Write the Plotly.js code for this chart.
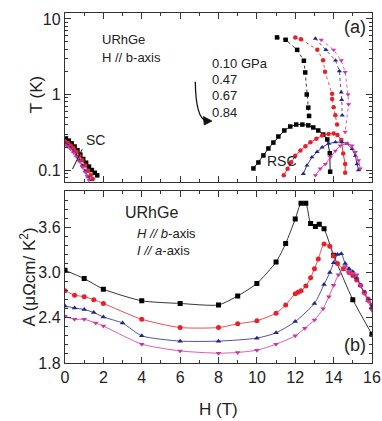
<!DOCTYPE html>
<html><head><meta charset="utf-8">
<script src="https://cdn.plot.ly/plotly-3.0.1.min.js"></script>
<style>html,body{margin:0;padding:0;background:#fff;}#chart{width:382px;height:421px;}</style>
</head><body><div id="chart"></div>
<script>
// ---------- series labels / styles ----------
const pressureLabels = ['0.10 GPa', '0.47', '0.67', '0.84'];
const seriesColors = ['#000000', '#e8202a', '#23238c', '#d0359f'];
const seriesSymbols = ['square', 'circle', 'triangle-up', 'triangle-down'];

// ---------- panel (a): T(H) phase diagram ----------
// superconducting (SC) lines near H = 0
const scH_010 = [0.05, 0.2, 0.35, 0.5, 0.65, 0.8, 0.95, 1.1, 1.25, 1.4, 1.55, 1.68];
const scT_010 = [0.262, 0.245, 0.225, 0.205, 0.183, 0.16, 0.14, 0.125, 0.111, 0.1, 0.092, 0.085];
const scH_047 = [0, 0.15, 0.3, 0.45, 0.6, 0.75, 0.9, 1.05, 1.2, 1.35, 1.45];
const scT_047 = [0.24, 0.228, 0.212, 0.195, 0.175, 0.155, 0.135, 0.115, 0.098, 0.085, 0.076];
const scH_067 = [0, 0.15, 0.3, 0.45, 0.6, 0.75, 0.9, 1.05, 1.2, 1.3];
const scT_067 = [0.225, 0.21, 0.195, 0.175, 0.155, 0.135, 0.115, 0.097, 0.082, 0.074];
const scH_084 = [0, 0.15, 0.3, 0.45, 0.6, 0.75, 0.9, 1.05, 1.15, 1.25];
const scT_084 = [0.215, 0.205, 0.19, 0.17, 0.15, 0.13, 0.11, 0.094, 0.083, 0.074];

// upper (dotted) transition lines
const upH_010 = [11.05, 11.5, 12.1, 12.45, 12.52, 12.6, 12.68, 12.72];
const upT_010 = [5.7, 5.3, 3.9, 2.8, 1.96, 1.0, 0.67, 0.52];
const upH_047 = [12.0, 12.3, 13.15, 13.45, 13.55, 13.92, 13.92, 14.0, 14.09, 14.18];
const upT_047 = [5.7, 5.4, 3.9, 2.85, 2.0, 1.02, 0.87, 0.68, 0.53, 0.40];
const upH_067 = [13.05, 13.6, 14.1, 14.3, 14.4, 14.42, 14.45];
const upT_067 = [5.5, 3.9, 2.82, 2.04, 1.07, 0.85, 0.53];
const upH_084 = [13.35, 14.0, 14.4, 14.6, 14.75, 14.78, 14.6];
const upT_084 = [5.3, 3.9, 2.82, 1.98, 1.0, 0.74, 0.32];

// re-entrant superconductivity (RSC) domes
const rsH_010 = [9.82, 10.08, 10.34, 10.6, 10.86, 11.12, 11.43, 11.74, 12.05, 12.37, 12.68, 12.94, 13.2, 13.46, 13.67, 13.8, 13.82];
const rsT_010 = [0.105, 0.126, 0.156, 0.193, 0.231, 0.278, 0.334, 0.377, 0.40, 0.40, 0.39, 0.366, 0.334, 0.295, 0.254, 0.167, 0.095];
const rsH_047 = [11.4, 11.6, 11.78, 12.0, 12.27, 12.53, 12.79, 13.1, 13.4, 13.74, 14.0, 14.2, 14.4, 14.5, 14.6, 14.6];
const rsT_047 = [0.085, 0.104, 0.127, 0.155, 0.181, 0.207, 0.233, 0.259, 0.287, 0.301, 0.305, 0.29, 0.25, 0.165, 0.12, 0.092];
const rsH_067 = [12.42, 12.61, 12.87, 13.14, 13.4, 13.74, 14.09, 14.43, 14.7, 14.96, 15.13, 15.22, 15.3];
const rsT_067 = [0.089, 0.115, 0.148, 0.174, 0.20, 0.224, 0.234, 0.234, 0.224, 0.19, 0.155, 0.12, 0.10];
const rsH_084 = [13.05, 13.3, 13.57, 13.83, 14.09, 14.35, 14.7, 14.96, 15.13, 15.3, 15.39];
const rsT_084 = [0.085, 0.104, 0.12, 0.148, 0.18, 0.21, 0.226, 0.21, 0.172, 0.134, 0.104];

// ---------- panel (b): A coefficient vs H ----------
const aH_010 = [0, 1, 2, 4, 6, 8, 9, 10, 11, 11.5, 12, 12.3, 12.55, 12.8, 13.05, 13.25, 13.5, 14.0, 15.0, 16.0];
const aA_010 = [3.03, 2.92, 2.78, 2.625, 2.59, 2.57, 2.69, 2.855, 3.14, 3.385, 3.71, 3.92, 3.92, 3.65, 3.61, 3.64, 3.58, 3.23, 2.64, 2.18];
const aH_047 = [0, 0.5, 1, 1.5, 2, 4, 6, 8, 9, 10, 11, 11.5, 12, 12.15, 12.3, 12.55, 12.8, 13.0, 13.2, 13.5, 13.8, 14.0, 14.2, 14.5, 14.8, 15.0, 15.2, 15.4, 15.6, 15.8, 16.0];
const aA_047 = [2.76, 2.70, 2.68, 2.64, 2.59, 2.38, 2.27, 2.27, 2.32, 2.36, 2.46, 2.57, 2.72, 2.74, 2.76, 2.82, 2.93, 3.05, 3.18, 3.38, 3.35, 3.22, 3.12, 3.05, 3.0, 2.96, 2.9, 2.83, 2.74, 2.65, 2.57];
const aH_067 = [0, 0.5, 1, 1.5, 2, 3, 4, 6, 8, 10, 11, 12, 13, 13.5, 13.8, 14.0, 14.2, 14.4, 14.6, 14.8, 15.0, 15.2, 15.4, 15.6, 15.8, 16.0];
const aA_067 = [2.555, 2.53, 2.51, 2.47, 2.41, 2.33, 2.16, 2.09, 2.09, 2.13, 2.2, 2.35, 2.59, 2.84, 3.0, 3.13, 3.24, 3.25, 3.12, 3.05, 3.01, 2.93, 2.83, 2.73, 2.63, 2.545];
const aH_084 = [0, 0.5, 1, 1.6, 2, 4, 6, 8, 9, 10, 11, 12, 12.5, 13, 13.45, 13.75, 14.0, 14.25, 14.6, 14.8, 15.0, 15.2, 15.4, 15.6, 15.8, 16.0];
const aA_084 = [2.42, 2.38, 2.38, 2.33, 2.29, 2.05, 1.96, 1.93, 1.94, 1.97, 2.05, 2.16, 2.26, 2.37, 2.52, 2.68, 2.83, 2.97, 3.08, 3.0, 2.99, 2.97, 2.83, 2.72, 2.62, 2.5];

// ---------- axis ticks ----------
const hTicks = [0, 2, 4, 6, 8, 10, 12, 14, 16];
const tTickVals = [0.1, 1, 10];
const tTickText = ['0.1', '1', '10'];
const aTickVals = [1.8, 2.4, 3.0, 3.6];
const aTickText = ['1.8', '2.4', '3.0', '3.6'];

const scSets = [[scH_010, scT_010], [scH_047, scT_047], [scH_067, scT_067], [scH_084, scT_084]];
const upSets = [[upH_010, upT_010], [upH_047, upT_047], [upH_067, upT_067], [upH_084, upT_084]];
const rsSets = [[rsH_010, rsT_010], [rsH_047, rsT_047], [rsH_067, rsT_067], [rsH_084, rsT_084]];
const aSets = [[aH_010, aA_010], [aH_047, aA_047], [aH_067, aA_067], [aH_084, aA_084]];

const traces = [];
function mk(i, size) {
  return {symbol: seriesSymbols[i], size: size, color: seriesColors[i]};
}
for (let i = 0; i < 4; i++) {
  traces.push({x: scSets[i][0], y: scSets[i][1], xaxis: 'x', yaxis: 'y', mode: 'lines+markers',
    line: {color: seriesColors[i], width: 0.8}, marker: mk(i, 4.5), showlegend: false, name: pressureLabels[i]});
  traces.push({x: upSets[i][0], y: upSets[i][1], xaxis: 'x', yaxis: 'y', mode: 'lines+markers',
    line: {color: seriesColors[i], width: 0.8, dash: 'dot'}, marker: mk(i, 4.5), showlegend: false, name: pressureLabels[i]});
  traces.push({x: rsSets[i][0], y: rsSets[i][1], xaxis: 'x', yaxis: 'y', mode: 'lines+markers',
    line: {color: seriesColors[i], width: 0.9}, marker: mk(i, 4.5), showlegend: false, name: pressureLabels[i]});
}
for (let i = 0; i < 4; i++) {
  traces.push({x: aSets[i][0], y: aSets[i][1], xaxis: 'x2', yaxis: 'y2', mode: 'lines+markers',
    line: {color: seriesColors[i], width: 0.8, shape: 'spline', smoothing: 0.6},
    marker: mk(i, 5), showlegend: false, name: pressureLabels[i]});
}

const F = 'Liberation Sans, Arial, sans-serif';
const axCommon = {
  showline: true, linecolor: '#333', linewidth: 1.2, mirror: 'allticks',
  ticks: 'inside', ticklen: 6, tickwidth: 1, tickcolor: '#333',
  showgrid: false, zeroline: false,
  tickfont: {family: F, size: 16, color: '#222'}
};

function note(text, x, y, size, extra) {
  return Object.assign({text: text, x: x, y: y, xref: 'paper', yref: 'paper', xanchor: 'left', yanchor: 'middle',
    showarrow: false, font: {family: F, size: size, color: '#222'}}, extra || {});
}

const layout = {
  width: 382, height: 421,
  margin: {l: 64.5, r: 10, t: 13, b: 58},
  paper_bgcolor: '#fff', plot_bgcolor: '#fff',
  font: {family: F, color: '#222'},
  xaxis: Object.assign({}, axCommon, {domain: [0, 1], range: [0, 16], tickvals: hTicks,
    showticklabels: false, anchor: 'y',
    minor: {dtick: 1, tick0: 0, ticks: 'inside', ticklen: 3, tickcolor: '#333'}}),
  yaxis: Object.assign({}, axCommon, {domain: [0.517, 1], type: 'log', range: [-1.159, 1.079],
    tickvals: tTickVals, ticktext: tTickText, anchor: 'x',
    minor: {dtick: 'D1', ticks: 'inside', ticklen: 3, tickcolor: '#333'}}),
  xaxis2: Object.assign({}, axCommon, {domain: [0, 1], range: [0, 16], tickvals: hTicks, anchor: 'y2',
    minor: {dtick: 1, tick0: 0, ticks: 'inside', ticklen: 3, tickcolor: '#333'}}),
  yaxis2: Object.assign({}, axCommon, {domain: [0, 0.491], range: [1.8, 4.08],
    tickvals: aTickVals, ticktext: aTickText, anchor: 'x2',
    minor: {tick0: 1.8, dtick: 0.12, ticks: 'inside', ticklen: 3, tickcolor: '#333'}}),
  annotations: [
    note('T (K)', -0.09, 0.766, 17, {xanchor: 'center', textangle: -90}),
    note('A (μΩcm/ K<sup>2</sup>)', -0.122, 0.246, 17, {xanchor: 'center', textangle: -90}),
    note('H (T)', 0.5, -0.134, 17, {xanchor: 'center'}),
    note('URhGe', 0.115, 0.925, 13),
    note('H // b-axis', 0.115, 0.874, 13),
    note(pressureLabels[0], 0.473, 0.857, 13),
    note(pressureLabels[1], 0.473, 0.809, 13),
    note(pressureLabels[2], 0.473, 0.763, 13),
    note(pressureLabels[3], 0.473, 0.717, 13),
    note('(a)', 0.987, 0.96, 18, {xanchor: 'right'}),
    note('SC', 0.099, 0.637, 14, {xanchor: 'center'}),
    note('RSC', 0.707, 0.577, 14, {xanchor: 'center'}),
    note('URhGe', 0.19, 0.431, 16),
    note('<i>H // b</i>-axis', 0.229, 0.369, 13),
    note('<i>I // a</i>-axis', 0.229, 0.32, 13),
    note('(b)', 0.987, 0.051, 18, {xanchor: 'right'})
  ],
  shapes: [
    {type: 'path', xref: 'paper', yref: 'paper', path: 'M 0.4244 0.8037 Q 0.4260 0.7000 0.4600 0.6914', line: {color: '#111', width: 1.3}},
    {type: 'path', xref: 'paper', yref: 'paper', path: 'M 0.4787 0.6914 L 0.4504 0.7043 L 0.4537 0.6800 Z', fillcolor: '#111', line: {color: '#111', width: 0.8}},
    {type: 'line', xref: 'paper', yref: 'paper', x0: 0.0559, y0: 0.6106, x1: 0.0244, y1: 0.554, line: {color: '#111', width: 1}}
  ]
};

Plotly.newPlot('chart', traces, layout, {staticPlot: true, displayModeBar: false});
</script></body></html>
